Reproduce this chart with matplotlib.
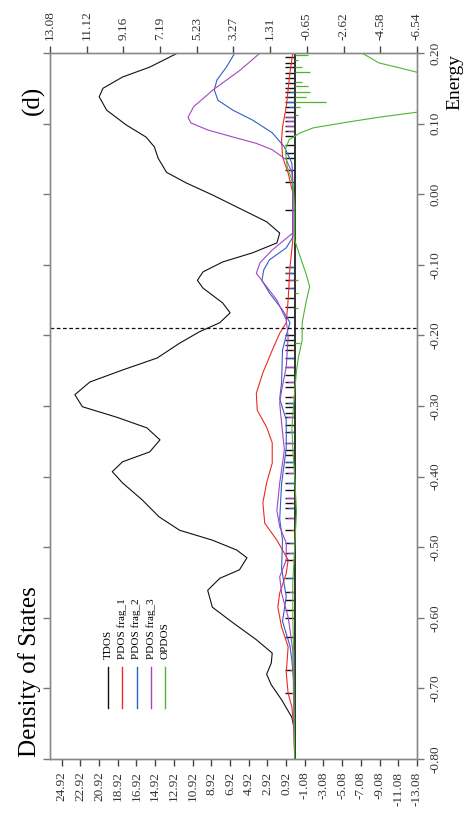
import matplotlib.pyplot as plt
import numpy as np

plt.rcParams["font.family"] = ["Liberation Serif", "DejaVu Serif"]

# --- curves (energy in Hartree, DOS in states) ---
tdos_e = [0.200, 0.180, 0.166, 0.150, 0.138, 0.119, 0.098, 0.081, 0.067, 0.051,
          0.031, 0.016, -0.001, -0.020, -0.039, -0.055, -0.069, -0.083, -0.096,
          -0.110, -0.122, -0.133, -0.154, -0.168, -0.182, -0.195, -0.211, -0.232,
          -0.249, -0.266, -0.284, -0.301, -0.316, -0.331, -0.348, -0.365, -0.379,
          -0.393, -0.409, -0.433, -0.457, -0.476, -0.490, -0.504, -0.515, -0.532,
          -0.544, -0.561, -0.585, -0.607, -0.631, -0.650, -0.664, -0.680, -0.695,
          -0.716, -0.741, -0.760, -0.800]
tdos_v = [12.5, 15.5, 18.4, 20.5, 20.9, 20.1, 18.0, 15.9, 15.0, 14.6,
          13.7, 11.6, 8.8, 5.9, 3.0, 1.6, 1.9, 4.5, 7.7,
          9.8, 10.4, 9.8, 7.7, 6.9, 8.0, 10.2, 12.3, 14.7,
          18.4, 21.9, 23.5, 22.7, 19.0, 15.8, 14.4, 15.5, 18.4,
          19.5, 18.4, 16.3, 14.5, 12.3, 8.8, 6.2, 5.1, 5.9,
          8.0, 9.3, 8.8, 6.6, 4.1, 2.4, 2.5, 3.0, 2.5,
          1.4, 0.3, 0.0, 0.0]

frag1_e = [0.200, 0.172, 0.124, 0.095, 0.077, 0.053, 0.030, 0.002, -0.065, -0.103,
           -0.150, -0.182, -0.197, -0.221, -0.253, -0.282, -0.306, -0.330, -0.352,
           -0.381, -0.409, -0.437, -0.466, -0.490, -0.504, -0.518, -0.537, -0.565,
           -0.585, -0.613, -0.641, -0.678, -0.707, -0.726, -0.755, -0.800]
frag1_v = [0.2, 0.5, 0.9, 1.3, 1.4, 1.3, 0.7, 0.2, 0.2, 0.5,
           0.7, 0.9, 1.6, 2.4, 3.4, 4.1, 4.0, 3.0, 2.4,
           2.4, 3.0, 3.4, 3.2, 1.9, 1.3, 0.7, 0.9, 1.6,
           1.8, 1.4, 0.7, 0.9, 0.7, 0.3, 0.1, 0.0]

frag2_e = [0.200, 0.180, 0.162, 0.148, 0.133, 0.119, 0.105, 0.087, 0.067, 0.044,
           0.020, -0.061, -0.076, -0.093, -0.107, -0.122, -0.140, -0.164, -0.182,
           -0.200, -0.221, -0.267, -0.290, -0.320, -0.360, -0.410, -0.460, -0.490,
           -0.530, -0.570, -0.605, -0.640, -0.660, -0.690, -0.800]
frag2_v = [6.4, 7.3, 8.3, 8.6, 8.2, 6.6, 4.5, 2.4, 1.1, 0.3,
           0.2, 0.2, 0.9, 2.7, 3.3, 3.5, 2.7, 1.3, 0.5,
           0.9, 1.3, 1.4, 1.6, 0.9, 0.9, 1.4, 1.6, 1.3,
           1.4, 0.9, 1.3, 0.5, 0.3, 0.1, 0.0]

frag3_e = [0.200, 0.176, 0.148, 0.124, 0.109, 0.101, 0.091, 0.081, 0.072, 0.063,
           0.049, 0.031, 0.006, -0.055, -0.079, -0.097, -0.112, -0.131, -0.150,
           -0.178, -0.202, -0.245, -0.278, -0.296, -0.324, -0.362, -0.381, -0.409,
           -0.448, -0.471, -0.494, -0.518, -0.542, -0.565, -0.599, -0.617, -0.646,
           -0.800]
frag3_v = [3.7, 5.8, 8.7, 10.8, 11.4, 11.1, 9.3, 6.6, 4.1, 2.4,
           0.9, 0.3, 0.2, 0.2, 2.4, 3.7, 4.1, 3.0, 1.9,
           0.9, 0.7, 0.9, 1.4, 1.6, 1.4, 1.1, 1.3, 1.6,
           1.9, 1.6, 0.9, 0.9, 1.6, 1.4, 0.7, 0.5, 0.2,
           0.0]

opdos_e = [0.200, 0.186, 0.179, 0.173, 0.160, 0.140, 0.125, 0.116, 0.109, 0.102,
           0.094, 0.087, 0.077, 0.063, 0.039, 0.016, -0.018, -0.065, -0.089,
           -0.112, -0.131, -0.154, -0.182, -0.207, -0.231, -0.250, -0.280, -0.330,
           -0.360, -0.400, -0.450, -0.500, -0.550, -0.600, -0.650, -0.800]
opdos_v = [-3.6, -4.5, -5.6, -6.5, -8.5, -9.5, -8.0, -6.5, -4.5, -2.8,
           -1.0, -0.3, 0.3, 0.5, 0.4, 0.1, 0.0, 0.0, -0.3,
           -0.6, -0.8, -0.6, -0.4, -0.4, -0.2, -0.1, 0.0, 0.15,
           0.1, 0.0, -0.1, 0.0, 0.1, 0.1, 0.05, 0.0]

# --- discrete levels (sticks) ---
levels = [0.195, 0.186, 0.180, 0.172, 0.165, 0.158, 0.150, 0.145, 0.138, 0.131,
          0.124, 0.117, 0.110, 0.104, 0.097, 0.090, 0.083, 0.070, 0.058, 0.051,
          0.034, 0.017, -0.022, -0.103, -0.112, -0.122, -0.133, -0.147, -0.160,
          -0.174, -0.199, -0.207, -0.214, -0.221, -0.232, -0.245, -0.256, -0.266,
          -0.273, -0.287, -0.296, -0.301, -0.310, -0.316, -0.327, -0.337, -0.352,
          -0.362, -0.369, -0.379, -0.386, -0.395, -0.409, -0.419, -0.430, -0.437,
          -0.444, -0.459, -0.476, -0.494, -0.508, -0.518, -0.544, -0.563, -0.575,
          -0.589, -0.600, -0.627, -0.674, -0.707]
frag1_lv = [-0.221, -0.287, -0.369, -0.437, -0.476, -0.518, -0.674, -0.707]
frag1_lh = [0.3, 0.4, 0.3, 0.3, 0.4, 0.3, 0.5, 0.4]
frag2_lv = [0.145, 0.131, 0.124, -0.103, -0.112, -0.133, -0.232, -0.296, -0.337,
            -0.379, -0.409, -0.444, -0.494, -0.544]
frag2_lh = [0.5, 0.8, 0.6, 0.7, 0.9, 0.6, 0.8, 0.7, 0.6, 0.9, 0.8, 0.7, 0.6, 0.8]
frag3_lv = [0.110, 0.104, 0.097, 0.090, -0.122, -0.245, -0.266, -0.316, -0.352,
            -0.395, -0.430, -0.459, -0.508, -0.563]
frag3_lh = [0.9, 0.8, 0.9, 0.7, 0.6, 0.9, 0.7, 0.8, 0.9, 0.7, 0.9, 0.8, 0.7, 0.6]
opdos_lv = [0.197, 0.190, 0.180, 0.173, 0.159, 0.153, 0.145, 0.138, 0.131, 0.124,
            0.112, -0.122, -0.140, -0.161, -0.211]
opdos_lh = [-0.7, -0.2, -0.4, -0.8, -0.4, -0.7, -0.8, -0.6, -1.7, -0.3,
            -0.2, -0.2, -0.2, -0.2, -0.3]

homo = -0.19

dos_ticks = [24.92 - 2 * i for i in range(20)]
opdos_ticks = [13.08, 11.12, 9.16, 7.19, 5.23, 3.27, 1.31, -0.65, -2.62, -4.58, -6.54]
e_ticks = [-0.80, -0.70, -0.60, -0.50, -0.40, -0.30, -0.20, -0.10, 0.00, 0.10, 0.20]

c_black, c_red, c_blue, c_purple, c_green = "#111111", "#ee2a24", "#2f5fc8", "#a445c4", "#4db52e"

fig = plt.figure(figsize=(4.70, 8.21), dpi=100)
ax = fig.add_axes([50 / 470, 62 / 821, 367 / 470, 706 / 821])
ax2 = ax.twiny()

ax.set_xlim(26.16, -13.08)
ax.set_ylim(-0.80, 0.20)
ax2.set_xlim(13.08, -6.54)

# sticks
ax.hlines(levels, 0, 1.0, color=c_black, lw=1.0)
ax.hlines(frag1_lv, 0, frag1_lh, color=c_red, lw=0.9)
ax.hlines(frag2_lv, 0, frag2_lh, color=c_blue, lw=0.9)
ax.hlines(frag3_lv, 0, frag3_lh, color=c_purple, lw=0.9)
ax2.hlines(opdos_lv, 0, opdos_lh, color=c_green, lw=0.9)

# curves
ax.plot(tdos_v, tdos_e, color=c_black, lw=0.8)
ax.plot(frag1_v, frag1_e, color=c_red, lw=0.8)
ax.plot(frag2_v, frag2_e, color=c_blue, lw=0.8)
ax.plot(frag3_v, frag3_e, color=c_purple, lw=0.8)
ax2.plot(opdos_v, opdos_e, color=c_green, lw=0.8)

ax.axvline(0, color="#333333", lw=1.4)
ax.axhline(homo, color="#111111", lw=0.9, ls=(0, (3, 2)))

# axes styling
for a in (ax, ax2):
    for s in a.spines.values():
        s.set_color("#8a8a8a")
        s.set_linewidth(1.0)

ax.set_xticks(dos_ticks)
ax.set_xticklabels([f"{t:.2f}" for t in dos_ticks], rotation=90, fontsize=9.5, color="#333333")
ax.tick_params(axis="x", direction="out", length=5, width=1.0, color="#444444", pad=4)

ax.set_yticks(e_ticks)
ax.set_yticklabels([f"{t:.2f}" for t in e_ticks], rotation=90, va="center", fontsize=9.5,
                   color="#333333")
ax.tick_params(axis="y", direction="out", length=5, width=1.0, color="#777777",
               left=True, right=True, labelleft=False, labelright=True, pad=4)

ax2.set_xticks(opdos_ticks)
ax2.set_xticklabels([f"{t:.2f}" for t in opdos_ticks], rotation=90, fontsize=9.5, color="#333333")
ax2.tick_params(axis="x", direction="out", length=5, width=1.0, color="#444444", pad=4)

# texts
fig.text(455 / 470, 1 - 82 / 821, "Energy", rotation=90, ha="center", va="center", fontsize=14)
fig.text(30 / 470, 1 - 672 / 821, "Density of States", rotation=90, ha="center", va="center",
         fontsize=18)
fig.text(33 / 470, 1 - 100 / 821, "(d)", rotation=90, ha="center", va="center", fontsize=18)

# legend drawn as in the original (rotated)
leg_names = ["TDOS", "PDOS frag_1", "PDOS frag_2", "PDOS frag_3", "OPDOS"]
leg_cols = [c_black, c_red, c_blue, c_purple, c_green]
for i, (nm, cl) in enumerate(zip(leg_names, leg_cols)):
    xf = (108 + 14.3 * i) / 470
    fig.add_artist(plt.Line2D([xf, xf], [1 - 708 / 821, 1 - 667 / 821], color=cl, lw=1.0))
    fig.text(xf, 1 - 659 / 821, nm, rotation=90, ha="center", va="bottom", fontsize=8)

fig.savefig("out.png", dpi=100)
